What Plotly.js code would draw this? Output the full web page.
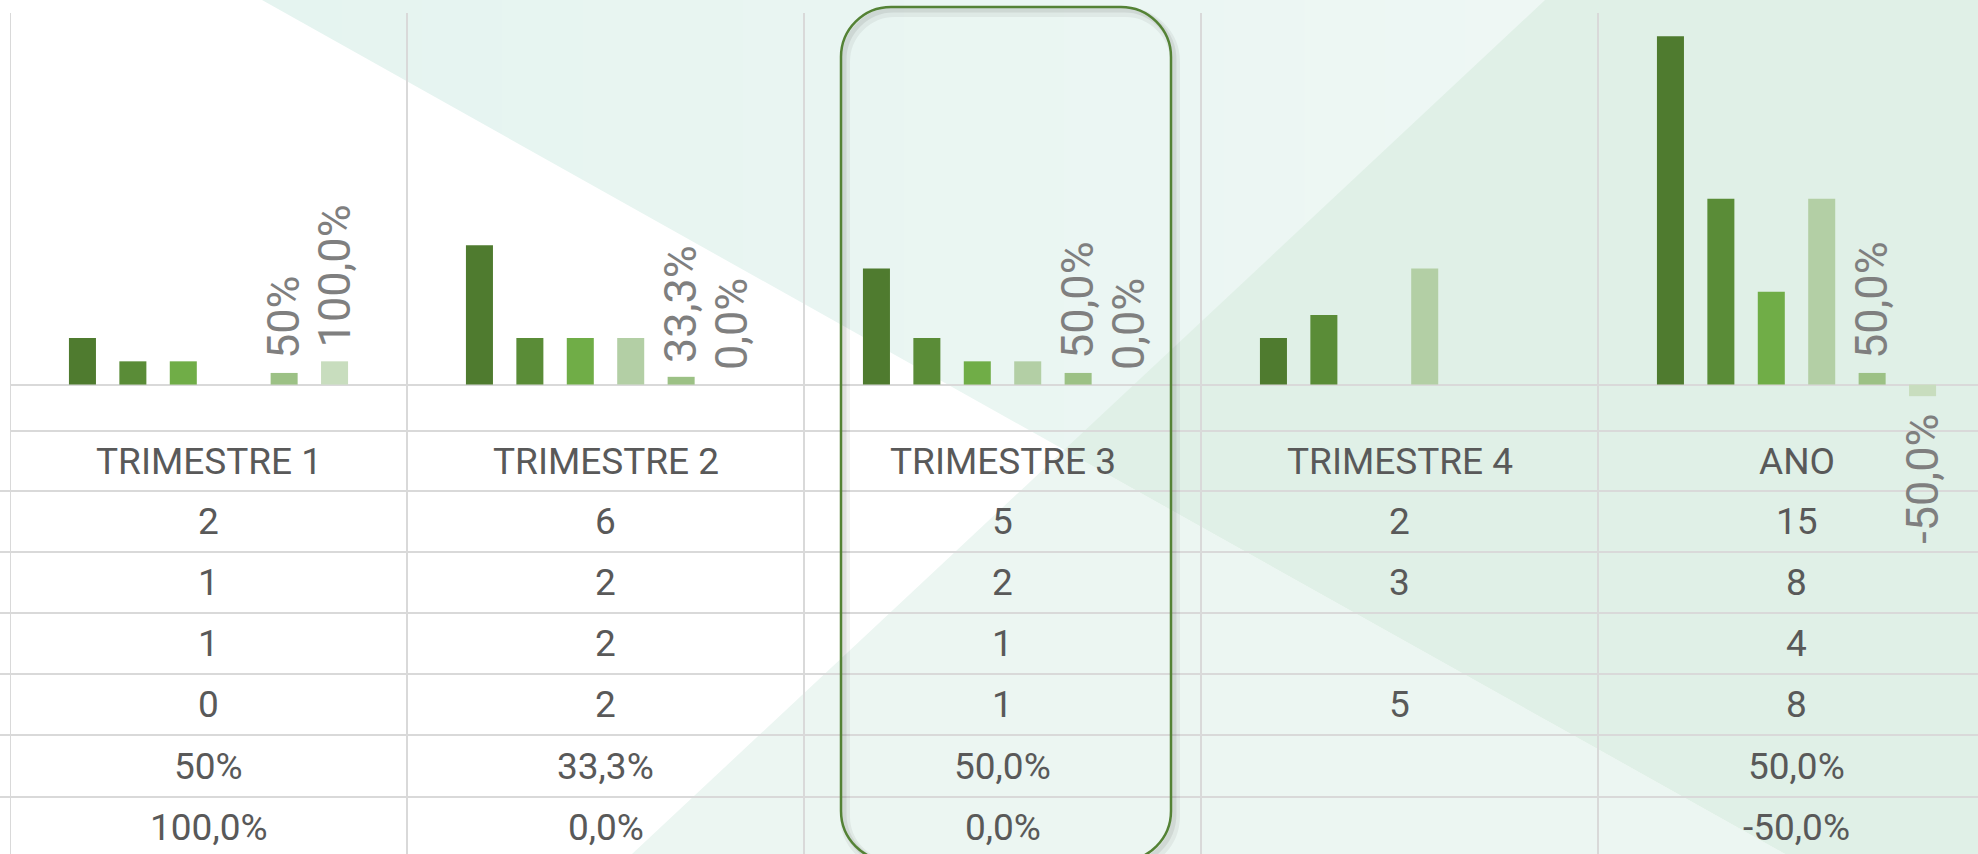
<!DOCTYPE html>
<html>
<head>
<meta charset="utf-8">
<script src="https://cdn.plot.ly/plotly-3.0.1.min.js"></script>
<style>
  html, body { margin: 0; padding: 0; background: #ffffff; overflow: hidden; }
  #chart { width: 1978px; height: 854px; }
</style>
</head>
<body>
<div id="chart"></div>
<script>
// ---------------- data ----------------
const categories = ["TRIMESTRE 1", "TRIMESTRE 2", "TRIMESTRE 3", "TRIMESTRE 4", "ANO"];
const serie1 = [2, 6, 5, 2, 15];
const serie2 = [1, 2, 2, 3, 8];
const serie3 = [1, 2, 1, null, 4];
const serie4 = [0, 2, 1, 5, 8];
const serie5 = [0.5, 0.333, 0.5, null, 0.5];
const serie6 = [1.0, 0.0, 0.0, null, -0.5];
const serie5Labels = ["50%", "33,3%", "50,0%", "", "50,0%"];
const serie6Labels = ["100,0%", "0,0%", "0,0%", "", "-50,0%"];

// ---------------- styles ----------------
const colors = ["#4F7B2F", "#5A8C37", "#70AD47", "#B3CFA5", "#9CC185", "#C8DDBE"];
const tableFont = { family: "Roboto, 'Open Sans', sans-serif", size: 37, color: "#595959" };
const labelFont = { family: "Roboto, 'Open Sans', sans-serif", size: 45, color: "#7F7F7F" };
const gridColor = "#D9D9D9";

// ---------------- geometry ----------------
const W = 1978, H = 854;
const plotL = 10, plotT = 13, plotB = 431;
const plotW = W - plotL, plotH = plotB - plotT;
const catPx = 397;
const bargap = 0.238, bargroupgap = 0.464;
const nSeries = 6;
const slotPx = catPx * (1 - bargap) / nSeries;

const px = x => (x - plotL) / plotW;
const py = y => (plotB - y) / plotH;
const P = (x, y) => px(x).toFixed(5) + "," + py(y).toFixed(5);
function poly(pts) { return "M" + pts.map(p => P(p[0], p[1])).join(" L") + " Z"; }
function roundRect(x0, y0, x1, y1, r) {
  const k = 0.5523 * r;
  return `M${P(x0 + r, y0)} L${P(x1 - r, y0)} C${P(x1 - r + k, y0)} ${P(x1, y0 + r - k)} ${P(x1, y0 + r)} ` +
         `L${P(x1, y1 - r)} C${P(x1, y1 - r + k)} ${P(x1 - r + k, y1)} ${P(x1 - r, y1)} ` +
         `L${P(x0 + r, y1)} C${P(x0 + r - k, y1)} ${P(x0, y1 - r + k)} ${P(x0, y1 - r)} ` +
         `L${P(x0, y0 + r)} C${P(x0, y0 + r - k)} ${P(x0 + r - k, y0)} ${P(x0 + r, y0)} Z`;
}

// ---------------- traces ----------------
const series = [serie1, serie2, serie3, serie4, serie5, serie6];
const traces = series.map((s, k) => ({
  type: "bar",
  x: categories,
  y: s,
  marker: { color: colors[k] },
  hoverinfo: "skip",
  showlegend: false
}));

// ---------------- shapes ----------------
const shapes = [];
// background: gradient bands for teal region
const c0 = [229, 244, 240], c1 = [238, 247, 244];
const bx0 = 262, bx1 = 1545, nb = 16;
for (let i = 0; i < nb; i++) {
  const t = (i + 0.5) / nb;
  const c = c0.map((v, j) => Math.round(v + (c1[j] - v) * t));
  const xa = bx0 + (bx1 - bx0) * i / nb, xb = bx0 + (bx1 - bx0) * (i + 1) / nb + 1;
  shapes.push({ type: "path", xref: "paper", yref: "paper", layer: "below", line: { width: 0 },
    fillcolor: `rgb(${c[0]},${c[1]},${c[2]})`, path: poly([[xa, 0], [xb, 0], [xb, H], [xa, H]]) });
}
// white region below first diagonal
shapes.push({ type: "path", xref: "paper", yref: "paper", layer: "below", line: { width: 0 },
  fillcolor: "#FFFFFF", path: poly([[262, 0], [1785, H], [240, H]]) });
// light region (right of second diagonal, below first)
shapes.push({ type: "path", xref: "paper", yref: "paper", layer: "below", line: { width: 0 },
  fillcolor: "#ECF6F2", path: poly([[1064, 450], [632, H], [1785, H]]) });
// overlap region (greener)
shapes.push({ type: "path", xref: "paper", yref: "paper", layer: "below", line: { width: 0 },
  fillcolor: "#E0F0E7", path: poly([[1545, 0], [1064, 450], [1785, H], [W + 5, H], [W + 5, 0]]) });

// table horizontal lines
const rowLines = [491, 552, 613, 674, 735, 797];
shapes.push({ type: "line", xref: "paper", yref: "paper", layer: "below",
  x0: px(plotL), x1: px(W + 5), y0: py(431), y1: py(431), line: { color: gridColor, width: 2 } });
rowLines.forEach(y => shapes.push({ type: "line", xref: "paper", yref: "paper", layer: "below",
  x0: px(0), x1: px(W + 5), y0: py(y), y1: py(y), line: { color: gridColor, width: 2 } }));
// vertical category boundaries
for (let i = 0; i <= categories.length; i++) {
  shapes.push({ type: "line", xref: "x", yref: "paper", layer: "below",
    x0: i - 0.5, x1: i - 0.5, y0: 1, y1: py(H + 5), line: { color: gridColor, width: 2 } });
}
// highlight rounded rectangle with soft shadow
const rr = [841, 7, 1171, 861, 50];
shapes.push({ type: "path", xref: "paper", yref: "paper", layer: "above", line: { color: "rgba(0,0,0,0.05)", width: 10 },
  path: roundRect(rr[0] + 4, rr[1] + 5, rr[2] + 4, rr[3] + 5, rr[4]) });
shapes.push({ type: "path", xref: "paper", yref: "paper", layer: "above", line: { color: "rgba(0,0,0,0.07)", width: 5 },
  path: roundRect(rr[0] + 3, rr[1] + 3, rr[2] + 3, rr[3] + 3, rr[4]) });
shapes.push({ type: "path", xref: "paper", yref: "paper", layer: "above", line: { color: "#548235", width: 2.5 },
  path: roundRect(rr[0], rr[1], rr[2], rr[3], rr[4]) });

// ---------------- annotations ----------------
const annotations = [];
// data labels (percentage series)
[[serie5, serie5Labels, 4], [serie6, serie6Labels, 5]].forEach(([vals, labs, k]) => {
  vals.forEach((v, i) => {
    if (v === null || labs[i] === "") return;
    const neg = v < 0;
    annotations.push({
      xref: "x", yref: "y", x: i, y: v, text: labs[i], showarrow: false,
      textangle: -90, font: labelFont,
      xanchor: "center", yanchor: neg ? "top" : "bottom",
      xshift: (k - (nSeries - 1) / 2) * slotPx, yshift: neg ? -16 : 12
    });
  });
});
// data table
const fmt = v => (v === null || v === undefined) ? "" : String(v);
const tableRows = [
  categories,
  serie1.map(fmt), serie2.map(fmt), serie3.map(fmt), serie4.map(fmt),
  serie5Labels, serie6Labels
];
const rowCenters = [461, 521.5, 582.5, 643.5, 704.5, 766, 827.5];
tableRows.forEach((row, r) => {
  row.forEach((txt, i) => {
    if (txt === "") return;
    annotations.push({ xref: "x", yref: "paper", x: i, y: py(rowCenters[r]), text: txt,
      showarrow: false, font: tableFont, xanchor: "center", yanchor: "middle" });
  });
});

// ---------------- layout ----------------
const layout = {
  width: W, height: H,
  margin: { l: plotL, r: 0, t: plotT, b: H - plotB, pad: 0 },
  paper_bgcolor: "#FFFFFF",
  plot_bgcolor: "rgba(0,0,0,0)",
  barmode: "group",
  bargap: bargap,
  bargroupgap: bargroupgap,
  font: { family: "Roboto, sans-serif", color: "#595959" },
  xaxis: { type: "category", range: [-0.5, -0.5 + plotW / catPx], showgrid: false, zeroline: false,
           showline: false, showticklabels: false, ticks: "", fixedrange: true },
  yaxis: { range: [-2, 16], showgrid: false, zeroline: true, zerolinecolor: gridColor, zerolinewidth: 2,
           showline: false, showticklabels: false, ticks: "", fixedrange: true },
  shapes: shapes,
  annotations: annotations,
  showlegend: false,
  hovermode: false
};

Plotly.newPlot("chart", traces, layout, { staticPlot: true, displayModeBar: false });
</script>
</body>
</html>
